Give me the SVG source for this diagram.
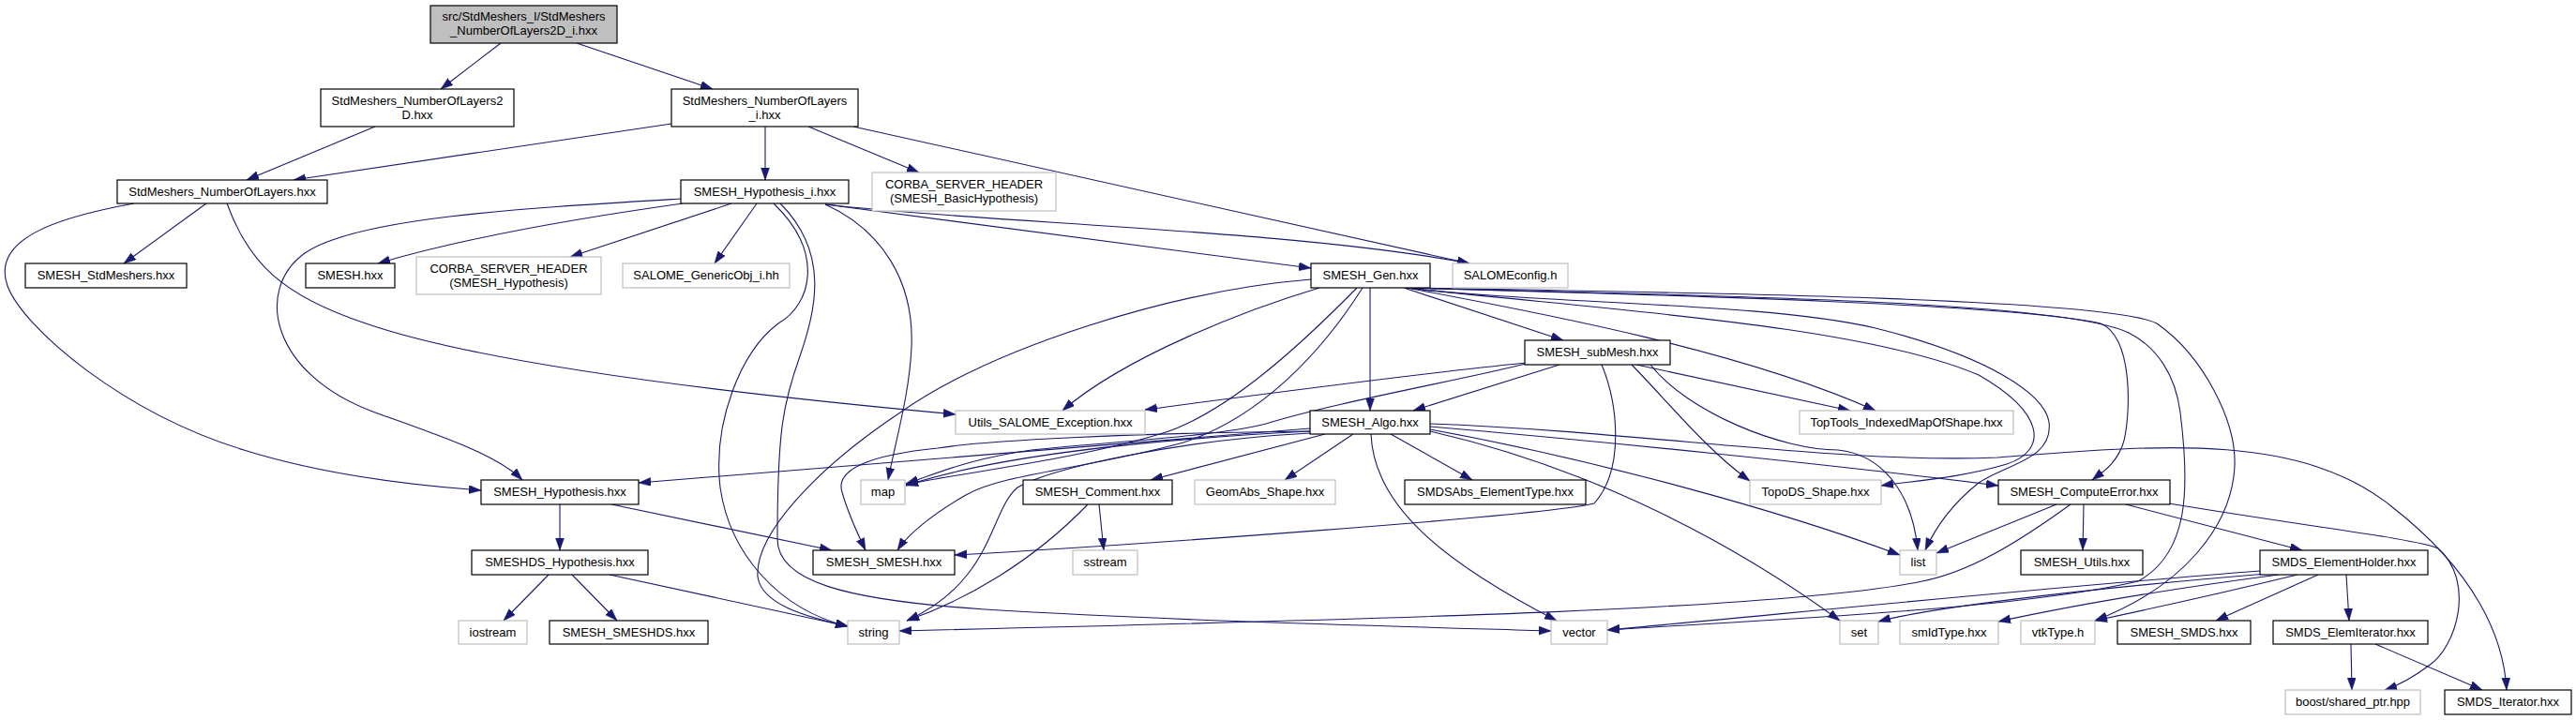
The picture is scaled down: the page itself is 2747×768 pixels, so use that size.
<svg xmlns="http://www.w3.org/2000/svg" width="2747" height="768" viewBox="0 0 2747 768">
<style>
.b{fill:#fff;stroke:#000;stroke-width:1.2}
.g{fill:#fff;stroke:#bfbfbf;stroke-width:1.2}
.r{fill:#bfbfbf;stroke:#000;stroke-width:1.2}
text{font-family:"Liberation Sans",Arial,sans-serif;font-size:13px;text-anchor:middle;fill:#000}
#edges path{fill:none;stroke:#191970;stroke-width:1.1;marker-end:url(#arr)}
</style>
<defs>
<marker id="arr" markerUnits="userSpaceOnUse" markerWidth="14" markerHeight="10" refX="13" refY="4.5" orient="auto">
<path d="M0,0 L13,4.5 L0,9 z" fill="#191970" stroke="#191970" stroke-width="0.5"/>
</marker>
</defs>
<rect width="2747" height="768" fill="#fff"/>
<g id="edges">
<path d="M534,46 L470,95"/>
<path d="M615,46 L760,95"/>
<path d="M400,135 L263,192"/>
<path d="M716,132 L313,192"/>
<path d="M816,135 L816,192"/>
<path d="M862,135 L980,184"/>
<path d="M910,135 L1567,281"/>
<path d="M880,218 C1050,238 1380,245 1567,281"/>
<path d="M880,218 L1398,286"/>
<path d="M220,217 L132,281"/>
<path d="M143,217 C60,232 -10,255 8,305 C25,350 130,440 260,480 C340,505 430,517 513,523"/>
<path d="M242,217 C265,280 300,315 390,345 C520,390 800,422 1019,442"/>
<path d="M727,212 C560,222 380,232 325,270 C270,310 290,400 400,440 C470,465 530,485 557,512"/>
<path d="M728,217 C600,235 490,255 403,281"/>
<path d="M780,217 L608,274"/>
<path d="M807,217 L762,281"/>
<path d="M825,217 C880,270 865,325 830,345 C790,375 760,450 768,520 C778,590 830,650 904,668"/>
<path d="M832,217 C885,270 870,330 853,380 C835,430 829,460 829,575 C829,620 900,640 1050,650 C1250,662 1450,667 1654,673"/>
<path d="M880,218 C940,245 975,300 972,370 C970,420 955,470 947,512"/>
<path d="M1398,298 C1250,310 1060,370 960,440 C870,500 805,570 808,615 C812,645 860,658 904,668"/>
<path d="M1407,307 C1330,330 1200,380 1133,438"/>
<path d="M1447,307 C1390,365 1310,440 1240,462 C1150,490 1020,505 966,517"/>
<path d="M1453,307 C1410,375 1345,445 1262,472 C1160,500 1070,505 1030,528 C995,548 968,570 957,587"/>
<path d="M1461,307 L1461,438"/>
<path d="M1497,307 L1667,363"/>
<path d="M1500,307 C1650,335 1860,375 2000,438"/>
<path d="M1500,307 C1700,330 1980,345 2110,400 C2180,440 2185,480 2140,495 C2090,510 2040,513 2006,518"/>
<path d="M1500,307 C1650,325 1880,322 2000,350 C2120,380 2180,420 2185,450 C2190,490 2140,495 2110,515 C2085,535 2065,560 2053,587"/>
<path d="M1500,307 C1800,315 2150,325 2240,345 C2275,360 2272,440 2265,470 C2258,495 2240,505 2231,512"/>
<path d="M1500,307 C1800,315 2200,320 2270,355 C2300,370 2320,400 2325,440 C2335,520 2335,590 2280,620 C2150,650 1900,660 1714,672"/>
<path d="M1500,307 C1800,312 2250,318 2300,345 C2350,380 2385,450 2383,497 C2380,560 2330,625 2234,662"/>
<path d="M1627,387 C1500,400 1350,420 1221,437"/>
<path d="M1663,389 L1507,438"/>
<path d="M1627,388 C1560,405 1420,430 1350,452 C1300,465 1200,470 1100,480 C1030,490 1000,505 966,516"/>
<path d="M1708,389 C1725,430 1733,500 1700,537 C1650,550 1200,582 1018,592"/>
<path d="M1745,389 L1973,438"/>
<path d="M1740,389 C1780,430 1820,480 1866,513"/>
<path d="M1760,389 C1800,440 1900,480 1960,480 C2010,485 2040,530 2045,587"/>
<path d="M1397,457 L681,515"/>
<path d="M1397,460 C1200,470 1050,490 966,518"/>
<path d="M1397,460 C1200,462 1050,470 1000,478 C930,485 890,500 898,525 C905,550 915,570 923,587"/>
<path d="M1397,462 C1250,470 1120,500 1085,520 C1055,545 1060,620 967,662"/>
<path d="M1413,463 L1227,512"/>
<path d="M1443,463 L1370,512"/>
<path d="M1483,463 L1570,512"/>
<path d="M1462,463 C1465,540 1540,600 1660,662"/>
<path d="M1525,455 C1700,470 1950,495 2131,518"/>
<path d="M1525,458 C1700,490 1900,545 2026,592"/>
<path d="M1525,460 C1700,500 1850,580 1962,662"/>
<path d="M1525,452 C1750,460 1960,495 2130,488 C2300,475 2450,460 2550,540 C2640,610 2670,680 2673,736"/>
<path d="M2193,538 L2065,590"/>
<path d="M2222,538 L2221,587"/>
<path d="M2267,538 L2455,587"/>
<path d="M2208,538 C2150,580 2100,610 2050,620 C1900,650 1500,660 959,673"/>
<path d="M2313,537 C2450,560 2580,575 2600,585 C2640,620 2620,690 2590,710 C2570,725 2555,732 2543,736"/>
<path d="M2502,613 L2505,662"/>
<path d="M2472,613 L2363,662"/>
<path d="M2450,613 C2380,630 2300,648 2234,662"/>
<path d="M2430,613 C2300,630 2200,648 2131,663"/>
<path d="M2417,612 C2200,630 2050,650 2003,663"/>
<path d="M2410,609 C2200,625 1900,655 1714,672"/>
<path d="M2507,687 L2508,736"/>
<path d="M2533,687 L2647,736"/>
<path d="M597,538 L597,587"/>
<path d="M652,538 L887,587"/>
<path d="M585,613 L537,662"/>
<path d="M610,613 L658,662"/>
<path d="M650,613 L904,668"/>
<path d="M1172,538 L1177,587"/>
<path d="M1160,538 C1100,600 1030,640 967,662"/>
</g>
<g id="n_root"><rect class="r" x="459" y="6" width="199" height="40"/><text x="558.5" y="22">src/StdMeshers_I/StdMeshers</text><text x="558.5" y="37">_NumberOfLayers2D_i.hxx</text></g>
<g id="n_nol2d"><rect class="b" x="342" y="95" width="206" height="40"/><text x="445" y="112">StdMeshers_NumberOfLayers2</text><text x="445" y="127">D.hxx</text></g>
<g id="n_noli"><rect class="b" x="716" y="95" width="199" height="40"/><text x="815.5" y="112">StdMeshers_NumberOfLayers</text><text x="815.5" y="127">_i.hxx</text></g>
<g id="n_nol"><rect class="b" x="125" y="192" width="224" height="25"/><text x="237" y="209">StdMeshers_NumberOfLayers.hxx</text></g>
<g id="n_hypi"><rect class="b" x="726" y="192" width="179" height="25"/><text x="815.5" y="209">SMESH_Hypothesis_i.hxx</text></g>
<g id="n_corbab"><rect class="g" x="930" y="184" width="196" height="41"/><text x="1028" y="201">CORBA_SERVER_HEADER</text><text x="1028" y="216">(SMESH_BasicHypothesis)</text></g>
<g id="n_stdm"><rect class="b" x="27" y="281" width="172" height="26"/><text x="113" y="298">SMESH_StdMeshers.hxx</text></g>
<g id="n_smesh"><rect class="b" x="326" y="281" width="95" height="26"/><text x="373.5" y="298">SMESH.hxx</text></g>
<g id="n_corbah"><rect class="g" x="444" y="274" width="197" height="40"/><text x="542.5" y="291">CORBA_SERVER_HEADER</text><text x="542.5" y="306">(SMESH_Hypothesis)</text></g>
<g id="n_gobj"><rect class="g" x="664" y="281" width="178" height="26"/><text x="753" y="298">SALOME_GenericObj_i.hh</text></g>
<g id="n_gen"><rect class="b" x="1398" y="281" width="127" height="26"/><text x="1461.5" y="298">SMESH_Gen.hxx</text></g>
<g id="n_scfg"><rect class="g" x="1549" y="281" width="123" height="26"/><text x="1610.5" y="298">SALOMEconfig.h</text></g>
<g id="n_sub"><rect class="b" x="1626" y="363" width="155" height="26"/><text x="1703.5" y="380">SMESH_subMesh.hxx</text></g>
<g id="n_utils"><rect class="g" x="1019" y="438" width="202" height="25"/><text x="1120" y="455">Utils_SALOME_Exception.hxx</text></g>
<g id="n_algo"><rect class="b" x="1397" y="438" width="128" height="25"/><text x="1461" y="455">SMESH_Algo.hxx</text></g>
<g id="n_toptools"><rect class="g" x="1919" y="438" width="228" height="25"/><text x="2033" y="455">TopTools_IndexedMapOfShape.hxx</text></g>
<g id="n_hyp"><rect class="b" x="513" y="512" width="168" height="26"/><text x="597" y="529">SMESH_Hypothesis.hxx</text></g>
<g id="n_map"><rect class="g" x="918" y="512" width="47" height="26"/><text x="941.5" y="529">map</text></g>
<g id="n_comment"><rect class="b" x="1091" y="512" width="159" height="26"/><text x="1170.5" y="529">SMESH_Comment.hxx</text></g>
<g id="n_geomabs"><rect class="g" x="1274" y="512" width="150" height="26"/><text x="1349" y="529">GeomAbs_Shape.hxx</text></g>
<g id="n_smdsabs"><rect class="b" x="1498" y="512" width="193" height="26"/><text x="1594.5" y="529">SMDSAbs_ElementType.hxx</text></g>
<g id="n_topods"><rect class="g" x="1866" y="512" width="140" height="26"/><text x="1936" y="529">TopoDS_Shape.hxx</text></g>
<g id="n_ce"><rect class="b" x="2131" y="512" width="183" height="26"/><text x="2222.5" y="529">SMESH_ComputeError.hxx</text></g>
<g id="n_hypds"><rect class="b" x="503" y="587" width="188" height="26"/><text x="597" y="604">SMESHDS_Hypothesis.hxx</text></g>
<g id="n_smeshsmesh"><rect class="b" x="867" y="587" width="151" height="26"/><text x="942.5" y="604">SMESH_SMESH.hxx</text></g>
<g id="n_sstream"><rect class="g" x="1144" y="587" width="69" height="26"/><text x="1178.5" y="604">sstream</text></g>
<g id="n_list"><rect class="g" x="2026" y="587" width="39" height="26"/><text x="2045.5" y="604">list</text></g>
<g id="n_utilsh"><rect class="b" x="2155" y="587" width="130" height="26"/><text x="2220" y="604">SMESH_Utils.hxx</text></g>
<g id="n_eh"><rect class="b" x="2410" y="587" width="179" height="26"/><text x="2499.5" y="604">SMDS_ElementHolder.hxx</text></g>
<g id="n_iostream"><rect class="g" x="489" y="662" width="73" height="25"/><text x="525.5" y="679">iostream</text></g>
<g id="n_smeshds"><rect class="b" x="586" y="662" width="169" height="25"/><text x="670.5" y="679">SMESH_SMESHDS.hxx</text></g>
<g id="n_string"><rect class="g" x="904" y="662" width="55" height="25"/><text x="931.5" y="679">string</text></g>
<g id="n_vector"><rect class="g" x="1654" y="662" width="60" height="25"/><text x="1684" y="679">vector</text></g>
<g id="n_set"><rect class="g" x="1962" y="662" width="41" height="25"/><text x="1982.5" y="679">set</text></g>
<g id="n_smid"><rect class="g" x="2026" y="662" width="105" height="25"/><text x="2078.5" y="679">smIdType.hxx</text></g>
<g id="n_vtk"><rect class="g" x="2155" y="662" width="79" height="25"/><text x="2194.5" y="679">vtkType.h</text></g>
<g id="n_smds"><rect class="b" x="2258" y="662" width="142" height="25"/><text x="2329" y="679">SMESH_SMDS.hxx</text></g>
<g id="n_ei"><rect class="b" x="2424" y="662" width="165" height="25"/><text x="2506.5" y="679">SMDS_ElemIterator.hxx</text></g>
<g id="n_boost"><rect class="g" x="2437" y="736" width="144" height="26"/><text x="2509" y="753">boost/shared_ptr.hpp</text></g>
<g id="n_iter"><rect class="b" x="2607" y="736" width="135" height="26"/><text x="2674.5" y="753">SMDS_Iterator.hxx</text></g>
</svg>
